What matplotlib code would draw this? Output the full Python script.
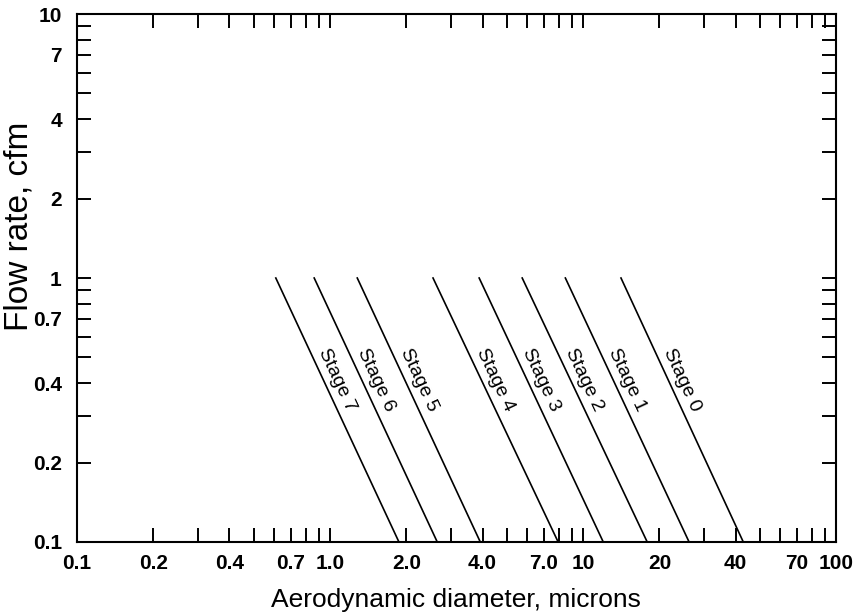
import numpy as np
import matplotlib
matplotlib.use("Agg")
import matplotlib.pyplot as plt
from matplotlib.ticker import FixedLocator, LogLocator, NullFormatter

# impactor stage cut lines: diameter at 1 cfm and at 0.1 cfm
stages = ['Stage 7', 'Stage 6', 'Stage 5', 'Stage 4', 'Stage 3', 'Stage 2', 'Stage 1', 'Stage 0']
d_top = [0.61, 0.865, 1.28, 2.55, 3.88, 5.74, 8.5, 14.1]
d_bot = [1.87, 2.65, 3.92, 7.96, 12.0, 17.9, 26.2, 42.9]
flow = [1.0, 0.1]

xticks = [0.1, 0.2, 0.4, 0.7, 1.0, 2.0, 4.0, 7.0, 10, 20, 40, 70, 100]
xlabels = ['0.1', '0.2', '0.4', '0.7', '1.0', '2.0', '4.0', '7.0', '10', '20', '40', '70', '100']
yticks = [0.1, 0.2, 0.4, 0.7, 1, 2, 4, 7, 10]
ylabels = ['0.1', '0.2', '0.4', '0.7', '1', '2', '4', '7', '10']

plt.rcParams['font.family'] = ['Liberation Sans', 'DejaVu Sans']

fig = plt.figure(figsize=(8.56, 6.12), dpi=100)
ax = fig.add_axes([0.090, 0.1144, 0.887, 0.8627])
ax.set_xscale('log')
ax.set_yscale('log')
ax.set_xlim(0.1, 100)
ax.set_ylim(0.1, 10)

for name, a, b in zip(stages, d_top, d_bot):
    ax.plot([a, b], flow, color='black', lw=1.2)

fig.canvas.draw()
label_y = 0.41
for name, a, b in zip(stages, d_top, d_bot):
    p0 = ax.transData.transform((a, flow[0]))
    p1 = ax.transData.transform((b, flow[1]))
    ang = np.degrees(np.arctan2(p1[1] - p0[1], p1[0] - p0[0]))
    frac = np.log10(flow[0] / label_y)
    xl = a * (b / a) ** frac
    ax.annotate(name, (xl, label_y), xytext=(10, 0), textcoords='offset points',
                rotation=ang + 180 if ang < -90 else ang, rotation_mode='anchor',
                ha='center', va='center', fontsize=14)

ax.xaxis.set_major_locator(FixedLocator(xticks))
ax.set_xticklabels(xlabels)
ax.yaxis.set_major_locator(FixedLocator(yticks))
ax.set_yticklabels(ylabels)
ax.xaxis.set_minor_locator(LogLocator(base=10, subs=np.arange(1, 10)))
ax.yaxis.set_minor_locator(LogLocator(base=10, subs=np.arange(1, 10)))
ax.xaxis.set_minor_formatter(NullFormatter())
ax.yaxis.set_minor_formatter(NullFormatter())

ax.tick_params(which='both', direction='in', top=True, right=True,
               length=10, width=1.4, labelsize=15)
ax.tick_params(axis='x', which='major', pad=9)
ax.tick_params(axis='y', which='major', pad=11)
for lab in ax.get_xticklabels() + ax.get_yticklabels():
    lab.set_fontweight('bold')
for sp in ax.spines.values():
    sp.set_linewidth(1.5)

fig.text(0.533, 0.020, 'Aerodynamic diameter, microns', fontsize=19,
         ha='center', va='center')
fig.text(0.022, 0.631, 'Flow rate, cfm', fontsize=24, rotation=90,
         ha='center', va='center')

plt.savefig('out.png', dpi=100)
